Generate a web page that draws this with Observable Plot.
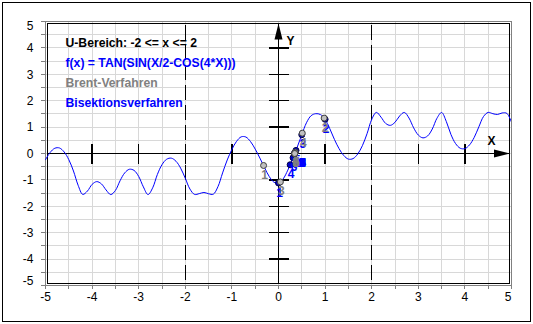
<!DOCTYPE html>
<html><head><meta charset="utf-8">
<script src="https://cdn.jsdelivr.net/npm/d3@7"></script>
<script src="https://cdn.jsdelivr.net/npm/@observablehq/plot@0.6"></script>
<style>
html,body{margin:0;padding:0;background:#fff;}
#wrap{position:relative;width:533px;height:324px;background:#fff;}
#border{position:absolute;left:2px;top:2px;width:527px;height:318px;border:1px solid #000;pointer-events:none;}
svg{display:block;}
</style></head><body>
<div id="wrap"><div id="border"></div></div>
<script>
// curve samples
const curveX = [-5.0,-4.9,-4.8,-4.7,-4.6,-4.5,-4.4,-4.3,-4.2,-4.1,-4.0,-3.9,-3.8,-3.7,-3.6,-3.5,-3.4,-3.3,-3.2,-3.1,-3.0,-2.9,-2.8,-2.7,-2.6,-2.5,-2.4,-2.3,-2.2,-2.1,-2.0,-1.9,-1.8,-1.7,-1.6,-1.5,-1.4,-1.3,-1.2,-1.1,-1.0,-0.9,-0.8,-0.7,-0.6,-0.5,-0.4,-0.3,-0.2,-0.1,0.0,0.1,0.2,0.3,0.4,0.5,0.6,0.7,0.8,0.9,1.0,1.1,1.2,1.3,1.4,1.5,1.6,1.7,1.8,1.9,2.0,2.1,2.2,2.3,2.4,2.5,2.6,2.7,2.8,2.9,3.0,3.1,3.2,3.3,3.4,3.5,3.6,3.7,3.8,3.9,4.0,4.1,4.2,4.3,4.4,4.5,4.6,4.7,4.8,4.9,5.0];
const curveY = [-0.236,0.040,0.199,0.209,0.059,-0.233,-0.663,-1.203,-1.550,-1.422,
 -1.170,-1.065,-1.151,-1.381,-1.556,-1.400,-1.033,-0.734,-0.597,-0.640,
 -0.870,-1.264,-1.556,-1.300,-0.798,-0.422,-0.217,-0.176,-0.293,-0.554,
 -0.940,-1.348,-1.551,-1.520,-1.476,-1.525,-1.542,-1.259,-0.736,-0.245,
 0.154,0.461,0.631,0.624,0.451,0.167,-0.172,-0.534,-0.868,-1.084,
 -1.117,-0.960,-0.630,-0.214,0.231,0.711,1.164,1.433,1.508,1.475,
 1.297,0.943,0.534,0.182,-0.076,-0.212,-0.194,-0.019,0.296,0.750,
 1.289,1.557,1.377,1.139,1.066,1.182,1.423,1.556,1.344,0.973,
 0.699,0.592,0.665,0.927,1.335,1.554,1.217,0.723,0.376,0.199,
 0.185,0.327,0.610,1.012,1.402,1.557,1.508,1.478,1.537,1.521,
 1.179];

// iteration points
const bisX = [0,1,0.5,0.25,0.375,0.3125,0.34375,0.359375,0.3515625,0.34765625,0.3496,0.3486,0.3491,0.3489,0.3490,0.3489,0.3489,0.3489,0.3489];
const bisY = [-1.117,1.297,0.711,-0.427,0.117,-0.160,-0.023,0.047,0.012,-0.005,0.003,-0.001,0.001,0,0,0,0,0,0];
const brentX = [-0.32,0.98,0.04,0.51,0.36,0.347,0.349,0.349];
const brentY = [-0.454,1.34,-1.077,0.77,0.05,-0.005,0,0];

// axes / ticks
const gridVals = [-5,-4.5,-4,-3.5,-3,-2.5,-2,-1.5,-1,-0.5,0,0.5,1,1.5,2,2.5,3,3.5,4,4.5,5];
const innerTicks = [-4,-3,-2,-1,1,2,3,4];
const xTickLabels = ["-5","-4","-3","-2","-1","0","1","2","3","4"];
const xTickVals = [-5,-4,-3,-2,-1,0,1,2,3,4];
const yTickLabels = ["-4","-3","-2","-1","0","1","2","3","4"];
const yTickVals = [-4,-3,-2,-1,0,1,2,3,4];
const boundaryLines = [-2,2];
const infoLines = ["U-Bereich: -2 <= x <= 2","f(x) = TAN(SIN(X/2-COS(4*X)))","Brent-Verfahren","Bisektionsverfahren"];
const infoColors = ["#000000","#0000ff","#808080","#0000ff"];

const curve = curveX.map((x,i)=>({x, y: curveY[i]}));
const bis = bisX.map((x,i)=>({x, y: bisY[i], n: String(i+1)}));
const brent = brentX.map((x,i)=>({x, y: brentY[i], n: String(i+1)}));

const vTick = {draw(ctx){ctx.moveTo(0,-10);ctx.lineTo(0,10);}};
const hTick = {draw(ctx){ctx.moveTo(-10,0);ctx.lineTo(10,0);}};
const arrowHead = {draw(ctx){ctx.moveTo(0,0);ctx.lineTo(4,16);ctx.lineTo(-4,16);ctx.closePath();}};

const F = "Liberation Sans, Arial, sans-serif";
const crisp = "crispEdges";

const infoMarks = infoLines.map((t,i)=>Plot.text([t],{frameAnchor:"top-left",dx:20,dy:22+20*i,textAnchor:"start",lineAnchor:"middle",fill:infoColors[i],fontWeight:"bold",fontSize:12.2,fontFamily:F}));

const plot = Plot.plot({
  width:533, height:324,
  marginLeft:45, marginRight:22, marginTop:21, marginBottom:39,
  x:{domain:[-5,5]},
  y:{domain:[-5,5]},
  style:{fontFamily:F, fontSize:"12px", background:"transparent", overflow:"visible"},
  marks:[
    Plot.ruleX(gridVals,{stroke:"#d8d8d8",shapeRendering:crisp}),
    Plot.ruleY(gridVals,{stroke:"#d8d8d8",shapeRendering:crisp}),
    Plot.frame({stroke:"#808080",shapeRendering:crisp}),
    Plot.frame({stroke:"#000000",inset:2,shapeRendering:crisp}),
    Plot.axisX({ticks:gridVals,tickSize:4,tickFormat:()=> "",stroke:"#808080",label:null,anchor:"bottom",shapeRendering:crisp}),
    Plot.axisY({ticks:gridVals,tickSize:4,tickFormat:()=> "",stroke:"#808080",label:null,anchor:"left",shapeRendering:crisp}),
    Plot.ruleX(boundaryLines,{stroke:"#000",strokeDasharray:"15,5",strokeDashoffset:18.5,insetTop:2,insetBottom:2,shapeRendering:crisp}),
    Plot.ruleY([0],{stroke:"#000",insetLeft:2,insetRight:2,shapeRendering:crisp}),
    Plot.ruleX([0],{stroke:"#000",insetTop:2,insetBottom:2,shapeRendering:crisp}),
    Plot.dot(innerTicks,{x:d=>d,y:()=>0,symbol:vTick,stroke:"#000",fill:"none",shapeRendering:crisp}),
    Plot.dot(innerTicks,{y:d=>d,x:()=>0,symbol:hTick,stroke:"#000",fill:"none",shapeRendering:crisp}),
    Plot.dot(["Y"],{x:()=>0,frameAnchor:"top",symbol:arrowHead,fill:"#000",stroke:"none",dy:2}),
    Plot.dot(["X"],{y:()=>0,frameAnchor:"right",symbol:arrowHead,rotate:90,fill:"#000",stroke:"none",dx:-1.5}),
    Plot.text(["Y"],{x:()=>0,frameAnchor:"top",dx:12,dy:15,fill:"#000",fontWeight:"bold",fontSize:12,fontFamily:F}),
    Plot.text(["X"],{y:()=>0,frameAnchor:"right",dx:-16,dy:-12,fill:"#000",fontWeight:"bold",fontSize:12,fontFamily:F}),
    ...infoMarks,
    Plot.line(curve,{x:"x",y:"y",stroke:"#0000ff",strokeWidth:1,curve:"catmull-rom",clip:true}),
    Plot.dot(bis,{x:"x",y:"y",r:3,fill:"#0000cc",stroke:"#000040",strokeWidth:1}),
    Plot.text(bis,{x:"x",y:"y",text:"n",textAnchor:"start",dx:-2.3,dy:9.7,fill:"#0000ff",fontWeight:"bold",fontSize:12,fontFamily:F}),
    Plot.dot(brent,{x:"x",y:"y",r:3,fill:"#c0c0c0",stroke:"#404040",strokeWidth:1}),
    Plot.text(brent,{x:"x",y:"y",text:"n",textAnchor:"start",dx:-2.3,dy:9.7,fill:"#808080",fontWeight:"bold",fontSize:12,fontFamily:F}),
    Plot.text(xTickVals,{x:d=>d,text:(d,i)=>xTickLabels[i],frameAnchor:"bottom",dy:15,fill:"#000",fontSize:12,fontFamily:F}),
    Plot.text([5],{x:d=>d,text:()=> "5",frameAnchor:"bottom",dy:15,dx:-3.5,fill:"#000",fontSize:12,fontFamily:F}),
    Plot.text(yTickVals,{y:d=>d,text:(d,i)=>yTickLabels[i],frameAnchor:"left",dx:-12,dy:0.5,textAnchor:"end",fill:"#000",fontSize:12,fontFamily:F}),
    Plot.text([5],{y:d=>d,text:()=> "5",frameAnchor:"left",dx:-12,dy:5,textAnchor:"end",fill:"#000",fontSize:12,fontFamily:F}),
    Plot.text([-5],{y:d=>d,text:()=> "-5",frameAnchor:"left",dx:-12,dy:-4.3,textAnchor:"end",fill:"#000",fontSize:12,fontFamily:F})
  ]
});
document.getElementById("wrap").appendChild(plot);
</script>
</body></html>
